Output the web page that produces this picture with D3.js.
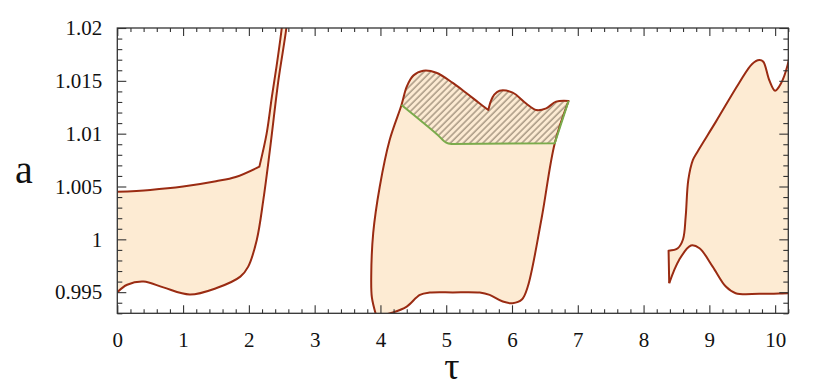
<!DOCTYPE html>
<html>
<head>
<meta charset="utf-8">
<script src="https://cdn.jsdelivr.net/npm/d3@7"></script>
<style>
  body { margin: 0; background: #fff; }
</style>
</head>
<body>
<script>
// tick values
const xMajorTicks = [0, 1, 2, 3, 4, 5, 6, 7, 8, 9, 10];
const yMajorTicks = [0.995, 1.0, 1.005, 1.01, 1.015, 1.02];
const yTickLabels = ["0.995", "1", "1.005", "1.01", "1.015", "1.02"];

// region 1 (left band) : [tau, a]
const band1UpperFlat = [[0, 1.0045], [0.5, 1.00468], [1, 1.005], [1.5, 1.0055], [1.8, 1.0059], [2.16, 1.00688]];
const band1UpperRise = [[2.16, 1.00688], [2.27, 1.0100], [2.35, 1.0135], [2.42, 1.01634], [2.5, 1.02], [2.53, 1.022]];
const band1Lower = [[0, 0.995], [0.15, 0.9957], [0.4, 0.9960], [0.7, 0.99545], [1.1, 0.99478], [1.5, 0.99537],
  [1.87, 0.99647], [1.99, 0.99742], [2.12, 0.99994], [2.22, 1.00373], [2.32, 1.00846], [2.45, 1.01508], [2.57, 1.02], [2.6, 1.022]];

// region 2 (middle island)
const island2LeftTop = [[3.93, 0.9929], [3.87, 0.9945], [3.86, 0.99647], [3.89, 1.00058], [3.99, 1.005], [4.14, 1.0094],
  [4.32, 1.01272], [4.4, 1.01445], [4.5, 1.0155], [4.65, 1.01596], [4.85, 1.01577], [5.1, 1.0148], [5.31, 1.01382], [5.5, 1.0129], [5.64, 1.01224]];
const island2TopRight = [[5.64, 1.01224], [5.68, 1.0131], [5.73, 1.0137], [5.81, 1.01407], [6.01, 1.01388], [6.21, 1.01288],
  [6.37, 1.01224], [6.52, 1.0124], [6.67, 1.01303], [6.86, 1.0131]];
const island2RightBottom = [[6.86, 1.0131], [6.65, 1.0091], [6.45, 1.002], [6.24, 0.99553], [6.15, 0.9943], [6.01, 0.99396],
  [5.86, 0.99411], [5.66, 0.99474], [5.51, 0.99496], [5.1, 0.99498], [4.75, 0.99496], [4.6, 0.99474], [4.4, 0.99364],
  [4.19, 0.99307], [4.05, 0.99285], [3.93, 0.9929]];

// hatched part (upper boundary of island 2 down to green curve)
const hatchTopLeft = [[4.32, 1.01272], [4.4, 1.01445], [4.5, 1.0155], [4.65, 1.01596], [4.85, 1.01577], [5.1, 1.0148], [5.31, 1.01382], [5.5, 1.0129], [5.64, 1.01224]];
const greenCurve = [[4.32, 1.01272], [4.6, 1.0113], [4.85, 1.01], [5.0, 1.00915], [5.08, 1.00903]];
const greenFlat = [[5.08, 1.00903], [6.65, 1.0091], [6.86, 1.0131]];

// region 3 (right band)
const band3Upper = [[8.38, 0.99893], [8.52, 0.99916], [8.6, 1.00001], [8.64, 1.00215], [8.68, 1.00562], [8.75, 1.00751],
  [8.82, 1.0083], [9.1, 1.01114], [9.45, 1.01477], [9.65, 1.0166], [9.76, 1.01697], [9.82, 1.01681], [9.91, 1.01508],
  [10.0, 1.01407], [10.09, 1.01477], [10.19, 1.0165], [10.25, 1.0185]];
const band3Lower = [[8.39, 0.99585], [8.54, 0.99805], [8.72, 0.99941], [8.85, 0.99916], [9.05, 0.99742], [9.25, 0.99553],
  [9.4, 0.9949], [9.76, 0.99484], [10.19, 0.9949], [10.25, 0.9949]];

const W = 830, H = 388;
const mLeft = 117.3, mRight = 788.3, mTop = 28, mBottom = 313.3;

const red = "#9a2b12", green = "#7bab4c", peach = "#fdebd3";
const serifFont = "'Liberation Serif'";

const x = d3.scaleLinear().domain([0, 10.2]).range([mLeft, mRight]);
const y = d3.scaleLinear().domain([0.993, 1.02]).range([mBottom, mTop]);

const svg = d3.select("body").append("svg")
  .attr("width", W).attr("height", H);

const defs = svg.append("defs");
defs.append("clipPath").attr("id", "plotclip")
  .append("rect").attr("x", mLeft).attr("y", mTop)
  .attr("width", mRight - mLeft).attr("height", mBottom - mTop);

const pat = defs.append("pattern").attr("id", "hatch")
  .attr("patternUnits", "userSpaceOnUse")
  .attr("width", 4.6).attr("height", 4.6)
  .attr("patternTransform", "rotate(45)");
pat.append("rect").attr("width", 4.6).attr("height", 4.6).attr("fill", peach);
pat.append("line").attr("x1", 1).attr("y1", 0).attr("x2", 1).attr("y2", 4.6)
  .attr("stroke", "#8a7a66").attr("stroke-width", 1.1);

const smooth = d3.line().x(d => x(d[0])).y(d => y(d[1])).curve(d3.curveCatmullRom.alpha(0.5));
const straight = d3.line().x(d => x(d[0])).y(d => y(d[1]));

// join several pieces into one path string
function joined(pieces, close) {
  let s = pieces.map((p, i) => {
    const d = (p.lin ? straight : smooth)(p.pts);
    return i === 0 ? d : "L" + d.slice(1);
  }).join("");
  return close ? s + "Z" : s;
}
const rev = a => a.slice().reverse();

const g = svg.append("g").attr("clip-path", "url(#plotclip)");

// region 1 fill + outline
g.append("path")
  .attr("d", joined([{pts: band1UpperFlat}, {pts: band1UpperRise}, {pts: rev(band1Lower)}], true))
  .attr("fill", peach);
g.append("path").attr("d", joined([{pts: band1UpperFlat}, {pts: band1UpperRise}])).attr("fill", "none")
  .attr("stroke", red).attr("stroke-width", 2);
g.append("path").attr("d", smooth(band1Lower)).attr("fill", "none")
  .attr("stroke", red).attr("stroke-width", 2);

// region 2
const island = joined([{pts: island2LeftTop}, {pts: island2TopRight}, {pts: island2RightBottom}], true);
g.append("path").attr("d", island).attr("fill", peach);
g.append("path")
  .attr("d", joined([{pts: hatchTopLeft}, {pts: island2TopRight}, {pts: rev(greenFlat), lin: true}, {pts: rev(greenCurve)}], true))
  .attr("fill", "url(#hatch)");
g.append("path").attr("d", island).attr("fill", "none")
  .attr("stroke", red).attr("stroke-width", 2).attr("stroke-linejoin", "round");
g.append("path").attr("d", joined([{pts: greenCurve}, {pts: greenFlat, lin: true}]))
  .attr("fill", "none").attr("stroke", green).attr("stroke-width", 2).attr("stroke-linejoin", "round");

// region 3
const band3 = joined([{pts: band3Upper}, {pts: [[10.25, 1.0185], [10.25, 0.9949]], lin: true}, {pts: rev(band3Lower)}], true);
g.append("path").attr("d", band3).attr("fill", peach);
g.append("path").attr("d", joined([{pts: [[8.39, 0.99585], [8.38, 0.99893]], lin: true}, {pts: band3Upper}]))
  .attr("fill", "none").attr("stroke", red).attr("stroke-width", 2).attr("stroke-linejoin", "round");
g.append("path").attr("d", smooth(band3Lower))
  .attr("fill", "none").attr("stroke", red).attr("stroke-width", 2);

// axes: ticks point inward on all four sides
const xMinor = d3.range(0, 10.21, 0.2).filter(v => Math.abs(v - Math.round(v)) > 1e-6);
const yMinor = d3.range(0.993, 1.02001, 0.001).filter(v => !yMajorTicks.some(t => Math.abs(t - v) < 1e-7));

function addAxis(axis, tr) {
  const a = svg.append("g").attr("transform", tr).call(axis);
  a.select(".domain").remove();
  a.selectAll("line").attr("stroke", "#333").attr("stroke-width", 1.1);
  a.selectAll("text")
    .style("font-family", serifFont).style("font-size", "21px").style("fill", "#111");
  return a;
}
addAxis(d3.axisBottom(x).tickValues(xMajorTicks).tickSize(-8).tickPadding(19).tickFormat(d3.format("d")), `translate(0,${mBottom})`);
addAxis(d3.axisBottom(x).tickValues(xMinor).tickSize(-4).tickFormat(""), `translate(0,${mBottom})`);
addAxis(d3.axisTop(x).tickValues(xMajorTicks).tickSize(-8).tickFormat(""), `translate(0,${mTop})`);
addAxis(d3.axisTop(x).tickValues(xMinor).tickSize(-4).tickFormat(""), `translate(0,${mTop})`);
addAxis(d3.axisLeft(y).tickValues(yMajorTicks).tickSize(-9).tickPadding(15).tickFormat((d, i) => yTickLabels[i]), `translate(${mLeft},0)`);
addAxis(d3.axisLeft(y).tickValues(yMinor).tickSize(-5).tickFormat(""), `translate(${mLeft},0)`);
addAxis(d3.axisRight(y).tickValues(yMajorTicks).tickSize(-9).tickFormat(""), `translate(${mRight},0)`);
addAxis(d3.axisRight(y).tickValues(yMinor).tickSize(-5).tickFormat(""), `translate(${mRight},0)`);

svg.append("rect").attr("x", mLeft).attr("y", mTop)
  .attr("width", mRight - mLeft).attr("height", mBottom - mTop)
  .attr("fill", "none").attr("stroke", "#333").attr("stroke-width", 1.3);

// axis titles
svg.append("text").attr("x", 24).attr("y", 183).attr("text-anchor", "middle")
  .style("font-family", serifFont).style("font-size", "40px").style("fill", "#111").text("a");
svg.append("text").attr("x", 452).attr("y", 379).attr("text-anchor", "middle")
  .style("font-family", serifFont).style("font-size", "38px").style("fill", "#111").text("τ");
</script>
</body>
</html>
